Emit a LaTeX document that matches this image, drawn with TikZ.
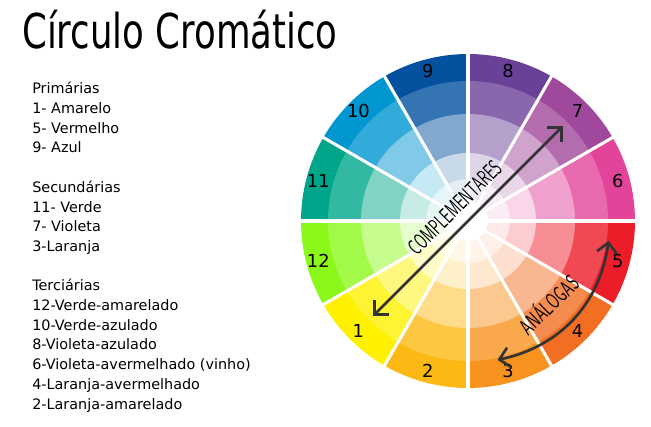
\documentclass[tikz,border=0pt]{standalone}
\usepackage{fontspec}
\setmainfont{DejaVu Sans}
\usetikzlibrary{arrows.meta, calc, positioning}

\definecolor{c1}{HTML}{FFF100}
\definecolor{c2}{HTML}{FDB913}
\definecolor{c3}{HTML}{F7931E}
\definecolor{c4}{HTML}{F26E22}
\definecolor{c5}{HTML}{ED1C29}
\definecolor{c6}{HTML}{E2449A}
\definecolor{c7}{HTML}{A0489B}
\definecolor{c8}{HTML}{6A4199}
\definecolor{c9}{HTML}{03519F}
\definecolor{c10}{HTML}{0096D0}
\definecolor{c11}{HTML}{00A68A}
\definecolor{c12}{HTML}{8CF81A}
\definecolor{cinza}{HTML}{333333}

\begin{document}
\begin{tikzpicture}[x=0.75pt, y=0.75pt,
  lista/.style={anchor=north west, inner sep=0pt, align=left, font=\fontsize{10.8}{14.8}\selectfont},
  numero/.style={inner sep=0pt, font=\fontsize{13.4}{13.4}\selectfont},
  seta/.style={draw=cinza, line width=2pt, {Straight Barb[length=7.5pt,width=15pt]}-{Straight Barb[length=7.5pt,width=15pt]}},
  rotulo/.style={inner sep=0pt, text=black, font=\sffamily\fontsize{17}{17}\selectfont}]
\useasboundingbox (0,0) rectangle (651,426);
\fill[white] (0,0) rectangle (651,426);

% titulo
\node[anchor=base west, inner sep=0pt, font=\fontsize{36}{36}\selectfont] (titulo) at (22,378) {\scalebox{0.74}[1]{Círculo Cromático}};

% legenda
\node[lista] (prim) at (32,344) {Primárias\\1- Amarelo\\5- Vermelho\\9- Azul};
\node[lista] (sec) at (32,245.5) {Secundárias\\11- Verde\\7- Violeta\\3-Laranja};
\node[lista] (ter) at (32,147) {Terciárias\\12-Verde-amarelado\\10-Verde-azulado\\8-Violeta-azulado\\6-Violeta-avermelhado (vinho)\\4-Laranja-avermelhado\\2-Laranja-amarelado};

% circulo
\coordinate (C) at (468,205);
\foreach \k [evaluate=\k as \s using 30*\k-180] in {1,...,12} {
  \foreach \r/\m in {167/100, 140/80, 107/50, 68/22, 42/10} {
    \fill[c\k!\m!white] (C) -- ++(\s:\r) arc[start angle=\s, end angle=\s+30, radius=\r] -- cycle;
  }
}
\foreach \a in {0,30,...,330}
  \draw[white, line width=2.3pt] (C) -- ++(\a:172);
\fill[white] (C) circle (20);

% numeros
\foreach \k [evaluate=\k as \s using 30*\k-165] in {1,...,12}
  \path (C) ++(\s:155) node[numero] (n\k) {\k};

% complementares
\coordinate (k1) at ($(C)+(-135:134)$);
\coordinate (k7) at ($(C)+(45:134)$);
\draw[seta] (k1) -- (k7);
\node[rotulo, rotate=45] (compl) at ($(C)+(135:19)$) {\scalebox{0.62}[1]{COMPLEMENTARES}};

% analogas
\coordinate (a5) at ($(C)+(-8:142)$);
\coordinate (a3) at ($(C)+(-78:142)$);
\draw[seta] (a5) to[bend left=35] (a3);
\node[rotulo, rotate=44] (anal) at ($(C)+(-46:115)$) {\scalebox{0.66}[1]{ANÁLOGAS}};
\end{tikzpicture}
\end{document}
